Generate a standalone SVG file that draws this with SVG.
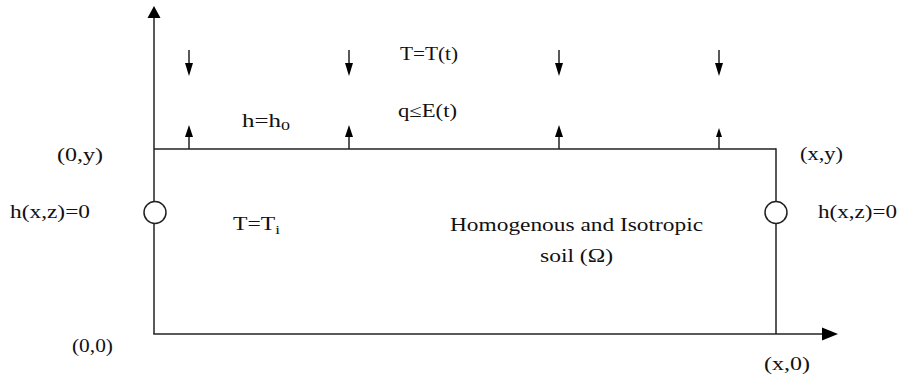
<svg xmlns="http://www.w3.org/2000/svg" width="899" height="377" viewBox="0 0 899 377">
<style>
.ln{stroke:#222;stroke-width:1.5;fill:none}
.ah{fill:#000;stroke:none}
.t{font-family:"Liberation Serif","Times New Roman",serif;font-size:18px;fill:#111}
.s{font-size:13px}
.c{fill:#fff;stroke:#222;stroke-width:1.5}
</style>
<rect width="899" height="377" fill="#fff"/>
<g id="connectors">
<line class="ln" x1="154" y1="14" x2="154" y2="334"/>
<path class="ah" d="M154,6 L160.5,18 L147.5,18 Z"/>
<line class="ln" x1="153.3" y1="334" x2="826" y2="334"/>
<path class="ah" d="M838,334 L822,327.5 L822,340.5 Z"/>
<line class="ln" x1="154" y1="149" x2="776" y2="149"/>
<line class="ln" x1="776" y1="148.3" x2="776" y2="334"/>
<g id="down-arrows">
<line class="ln" x1="189" y1="50" x2="189" y2="66"/><path class="ah" d="M189,76 L185,63 L193,63 Z"/>
<line class="ln" x1="349" y1="50" x2="349" y2="66"/><path class="ah" d="M349,76 L345,63 L353,63 Z"/>
<line class="ln" x1="559" y1="50" x2="559" y2="66"/><path class="ah" d="M559,76 L555,63 L563,63 Z"/>
<line class="ln" x1="719" y1="50" x2="719" y2="66"/><path class="ah" d="M719,76 L715,63 L723,63 Z"/>
</g>
<g id="up-arrows">
<line class="ln" x1="189" y1="134" x2="189" y2="149"/><path class="ah" d="M189,125 L185,137 L193,137 Z"/>
<line class="ln" x1="349" y1="134" x2="349" y2="149"/><path class="ah" d="M349,125 L345,137 L353,137 Z"/>
<line class="ln" x1="559" y1="134" x2="559" y2="149"/><path class="ah" d="M559,125 L555,137 L563,137 Z"/>
<line class="ln" x1="719" y1="134" x2="719" y2="149"/><path class="ah" d="M719,128 L716,137 L722,137 Z"/>
</g>
</g>
<g id="left-outlet"><circle class="c" cx="155" cy="212.5" r="11"/></g>
<g id="right-outlet"><circle class="c" cx="776" cy="212.5" r="11"/></g>
<g id="labels">
<text class="t" x="400" y="60" textLength="58" lengthAdjust="spacingAndGlyphs">T=T(t)</text>
<text class="t" x="242" y="127" textLength="48" lengthAdjust="spacingAndGlyphs">h=h<tspan class="s" dy="3">0</tspan></text>
<text class="t" x="398" y="117" textLength="59" lengthAdjust="spacingAndGlyphs">q≤E(t)</text>
<text class="t" x="57" y="161" textLength="46" lengthAdjust="spacingAndGlyphs">(0,y)</text>
<text class="t" x="800" y="160" textLength="43" lengthAdjust="spacingAndGlyphs">(x,y)</text>
<text class="t" x="10" y="218" textLength="80" lengthAdjust="spacingAndGlyphs">h(x,z)=0</text>
<text class="t" x="818" y="218" textLength="79" lengthAdjust="spacingAndGlyphs">h(x,z)=0</text>
<text class="t" x="233" y="230" textLength="47" lengthAdjust="spacingAndGlyphs">T=T<tspan class="s" dy="4">i</tspan></text>
<text class="t" x="450" y="231" textLength="253" lengthAdjust="spacingAndGlyphs">Homogenous and Isotropic</text>
<text class="t" x="540" y="262" textLength="73" lengthAdjust="spacingAndGlyphs">soil (Ω)</text>
<text class="t" x="72" y="352" textLength="41" lengthAdjust="spacingAndGlyphs">(0,0)</text>
<text class="t" x="764" y="370" textLength="46" lengthAdjust="spacingAndGlyphs">(x,0)</text>
</g>
</svg>
